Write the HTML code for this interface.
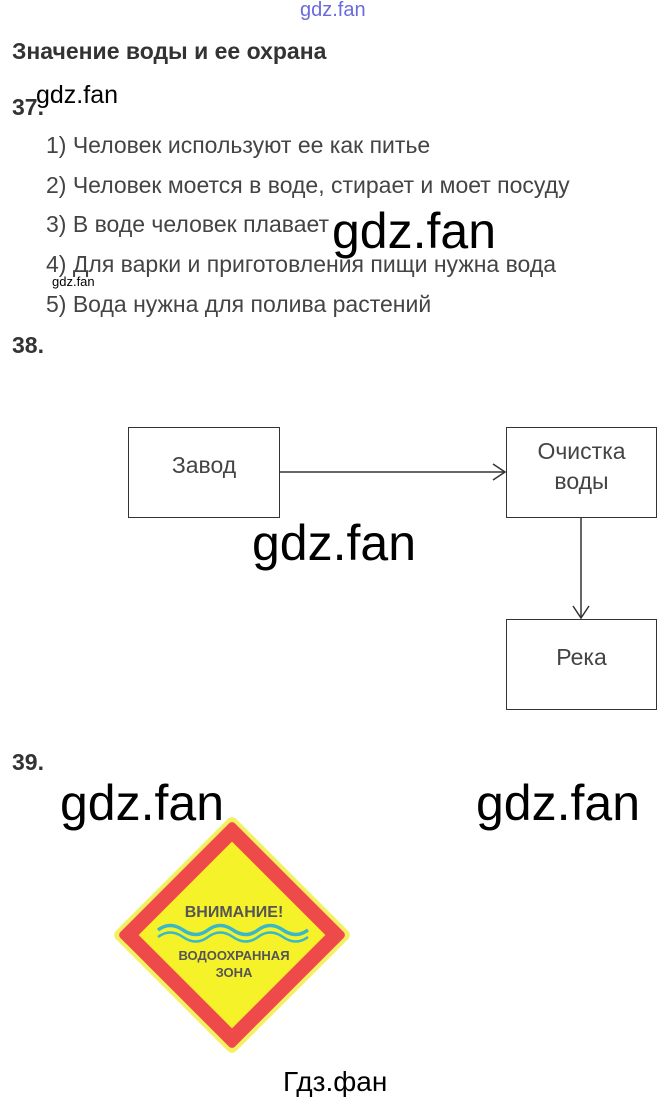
<!DOCTYPE html>
<html><head><meta charset="utf-8"><style>
body{margin:0;width:668px;height:1103px;background:#fff;position:relative;overflow:hidden;font-family:"Liberation Sans",sans-serif}
.a{position:absolute;white-space:nowrap}
.h{font-weight:bold;color:#333;font-size:23px}
.li{color:#444;font-size:23px;left:46px}
.wm{color:#000;font-size:50px}
.box{position:absolute;border:1.5px solid #333;box-sizing:border-box;color:#444;font-size:23px;text-align:center}
</style></head><body>
<div class="a" style="left:300px;top:-1px;font-size:20px;color:#6a6ae0">gdz.fan</div>
<div class="a h" style="left:12px;top:38px">Значение воды и ее охрана</div>
<div class="a h" style="left:12px;top:94px">37.</div>
<div class="a" style="left:36px;top:81px;font-size:25px;color:#000">gdz.fan</div>
<div class="a li" style="top:132px">1) Человек используют ее как питье</div>
<div class="a li" style="top:172px">2) Человек моется в воде, стирает и моет посуду</div>
<div class="a li" style="top:211px">3) В воде человек плавает</div>
<div class="a li" style="top:251px">4) Для варки и приготовления пищи нужна вода</div>
<div class="a" style="left:52px;top:274px;font-size:13px;color:#000">gdz.fan</div>
<div class="a li" style="top:291px">5) Вода нужна для полива растений</div>
<div class="a wm" style="left:332px;top:202px">gdz.fan</div>
<div class="a h" style="left:12px;top:332px">38.</div>
<div class="box" style="left:128px;top:427px;width:152px;height:91px;padding-top:24px">Завод</div>
<div class="box" style="left:506px;top:427px;width:151px;height:91px;padding-top:8px;line-height:30px">Очистка<br>воды</div>
<div class="box" style="left:506px;top:619px;width:151px;height:91px;padding-top:24px">Река</div>
<svg class="a" style="left:0;top:0" width="668" height="1103">
<line x1="280" y1="472" x2="505" y2="472" stroke="#333" stroke-width="1.5"/>
<polyline points="493,464 505,472 493,480" fill="none" stroke="#333" stroke-width="1.5"/>
<line x1="581" y1="518" x2="581" y2="618" stroke="#333" stroke-width="1.5"/>
<polyline points="573,606 581,618 589,606" fill="none" stroke="#333" stroke-width="1.5"/>
<g transform="translate(232,935) rotate(45)">
<rect x="-85" y="-85" width="170" height="170" rx="6" fill="#f4f060"/>
<rect x="-81" y="-81" width="162" height="162" rx="4" fill="#ef4a4a"/>
<rect x="-66" y="-66" width="132" height="132" fill="#f6f22a"/>
</g>
<path d="M158,930 q12,-9 25,0 t25,0 t25,0 t25,0 t25,0 t25,0" fill="none" stroke="#38b8c8" stroke-width="3.5"/>
<path d="M158,937 q12,-9 25,0 t25,0 t25,0 t25,0 t25,0 t25,0" fill="none" stroke="#38b8c8" stroke-width="2.5"/>
<text x="234" y="917" font-size="16" font-weight="bold" fill="#555" text-anchor="middle" font-family="Liberation Sans">ВНИМАНИЕ!</text>
<text x="234" y="960" font-size="13" font-weight="bold" fill="#555" text-anchor="middle" font-family="Liberation Sans">ВОДООХРАННАЯ</text>
<text x="234" y="977" font-size="13" font-weight="bold" fill="#555" text-anchor="middle" font-family="Liberation Sans">ЗОНА</text>
</svg>
<div class="a wm" style="left:252px;top:514px">gdz.fan</div>
<div class="a h" style="left:12px;top:749px">39.</div>
<div class="a wm" style="left:60px;top:774px">gdz.fan</div>
<div class="a wm" style="left:476px;top:774px">gdz.fan</div>
<div class="a" style="left:283px;top:1066px;font-size:28px;color:#000">Гдз.фан</div>
</body></html>
